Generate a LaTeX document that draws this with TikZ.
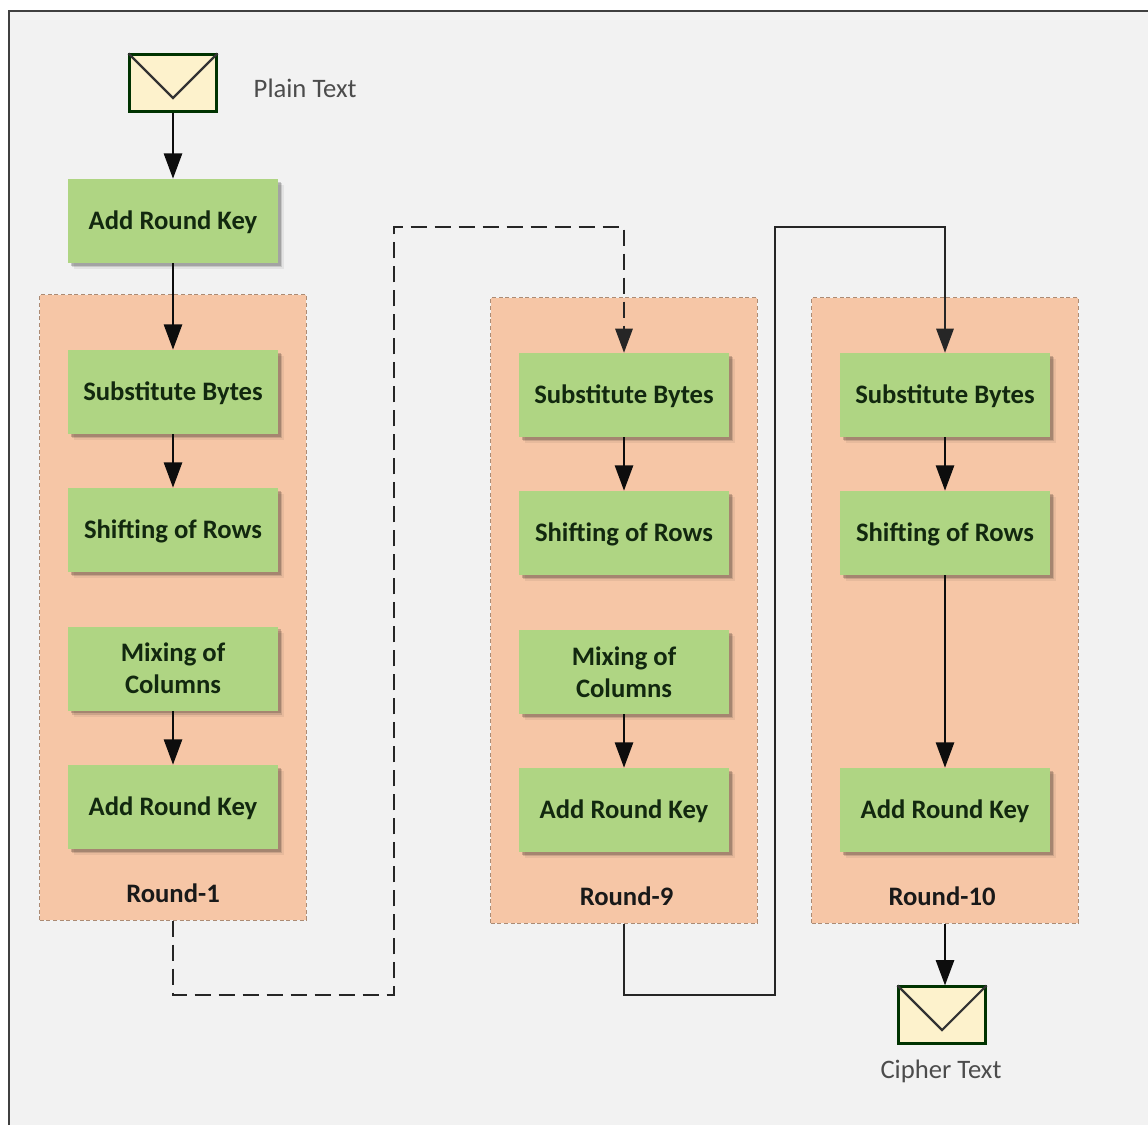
\documentclass[tikz,border=0pt]{standalone}
\usepackage{fontspec}
\setmainfont{Carlito}
\usetikzlibrary{arrows.meta,shadows,calc,positioning}
\definecolor{pagebg}{HTML}{F2F2F2}
\definecolor{stepgreen}{HTML}{AFD583}
\definecolor{roundfill}{HTML}{F6C6A6}
\definecolor{envfill}{HTML}{FDF2CC}
\definecolor{steptext}{HTML}{12280F}
\newcommand{\lowered}[1]{\raisebox{0pt}[\dimexpr\height+1.6pt\relax][\depth]{#1}}
\tikzset{
  x=0.75pt,y=-0.75pt,
  stepbox/.style={rectangle,draw=none,fill=stepgreen,minimum width=157.5pt,minimum height=63pt,inner sep=0pt,
    align=center,font=\fontsize{20}{24}\selectfont\bfseries,text=steptext,
    general shadow={fill=black,opacity=.06,shadow xshift=4.5pt,shadow yshift=-4.5pt},
    general shadow={fill=black,opacity=.12,shadow xshift=3.2pt,shadow yshift=-3.2pt},
    general shadow={fill=black,opacity=.18,shadow xshift=2pt,shadow yshift=-2pt}},
  roundbox/.style={rectangle,draw=roundfill!70!black,densely dashed,line width=.6pt,fill=roundfill,
    minimum width=200pt,minimum height=469pt,inner sep=0pt},
  roundlabel/.style={font=\fontsize{20}{24}\selectfont\bfseries,text=black!90},
  envbox/.style={rectangle,draw=black!80!green,fill=envfill,line width=1.8pt,minimum width=65pt,minimum height=42.5pt,inner sep=0pt},
  flap/.style={line width=1.6pt,draw=black!80,line join=miter},
  plainlabel/.style={font=\fontsize{20}{24}\selectfont,text=black!70},
  conn/.style={line width=2pt,draw=black!95,-{Triangle[length=19pt,width=13.5pt]}},
  link/.style={line width=1.4pt,draw=black!85,-{Triangle[length=18pt,width=13pt]}},
  linkdash/.style={link,dash pattern=on 12pt off 6pt},
}
\newcommand{\roundcolumn}[5]{% prefix, x, y offset, label, label x
  \node[roundbox] (#1box) at (#2,{607.5+#3}) {};
  \node[stepbox] (#1sub) at (#2,{392+#3}) {\lowered{Substitute Bytes}};
  \node[stepbox] (#1shift) at (#2,{530+#3}) {\lowered{Shifting of Rows}};
  \node[stepbox] (#1add) at (#2,{807+#3}) {\lowered{Add Round Key}};
  \node[roundlabel] (#1label) at (#5,{893+#3}) {#4};
}
\begin{document}
\begin{tikzpicture}
\useasboundingbox (0,0) rectangle (1148,1125);
\fill[white] (0,0) rectangle (1148,1125);
\fill[pagebg] (9,11) rectangle (1148,1125);
\draw[line width=1.6pt,draw=black!75] (9,1125) -- (9,11) -- (1148,11);

\node[envbox] (env1) at (173,83) {};
\coordinate (e1v) at (173,98);
\draw[flap] (env1.north west) -- (e1v) -- (env1.north east);
\node[plainlabel,anchor=west] (ptext) at (249,88) {Plain Text};
\node[stepbox] (key0) at (173,221) {\lowered{Add Round Key}};

\roundcolumn{a}{173}{0}{Round-1}{173}
\node[stepbox] (amix) at (173,668.5) {Mixing of\\Columns};
\roundcolumn{b}{624}{3}{Round-9}{626.5}
\node[stepbox] (bmix) at (624,672) {Mixing of\\Columns};
\roundcolumn{c}{945}{3}{Round-10}{942}

\node[envbox] (env2) at (942,1015) {};
\coordinate (e2v) at (942,1030);
\draw[flap] (env2.north west) -- (e2v) -- (env2.north east);
\node[plainlabel] (ctext) at (941,1071) {Cipher Text};

\coordinate (d1) at (173,995);
\coordinate (d2) at (394,995);
\coordinate (d3) at (394,227);
\coordinate (d4) at (624,227);
\coordinate (s1) at (624,995);
\coordinate (s2) at (775,995);
\coordinate (s3) at (775,227);
\coordinate (s4) at (945,227);

\draw[conn] (env1) -- (key0);
\draw[conn] (key0) -- (asub);
\draw[conn] (asub) -- (ashift);
\draw[conn] (amix) -- (aadd);
\draw[conn] (bsub) -- (bshift);
\draw[conn] (bmix) -- (badd);
\draw[conn] (csub) -- (cshift);
\draw[conn] (cshift) -- (cadd);
\draw[linkdash] (abox.south) -- (d1) -- (d2) -- (d3) -- (d4) -- (bsub.north);
\draw[link] (bbox.south) -- (s1) -- (s2) -- (s3) -- (s4) -- (csub.north);
\draw[conn] (cbox.south) -- (cbox.south |- env2.north);
\end{tikzpicture}
\end{document}
